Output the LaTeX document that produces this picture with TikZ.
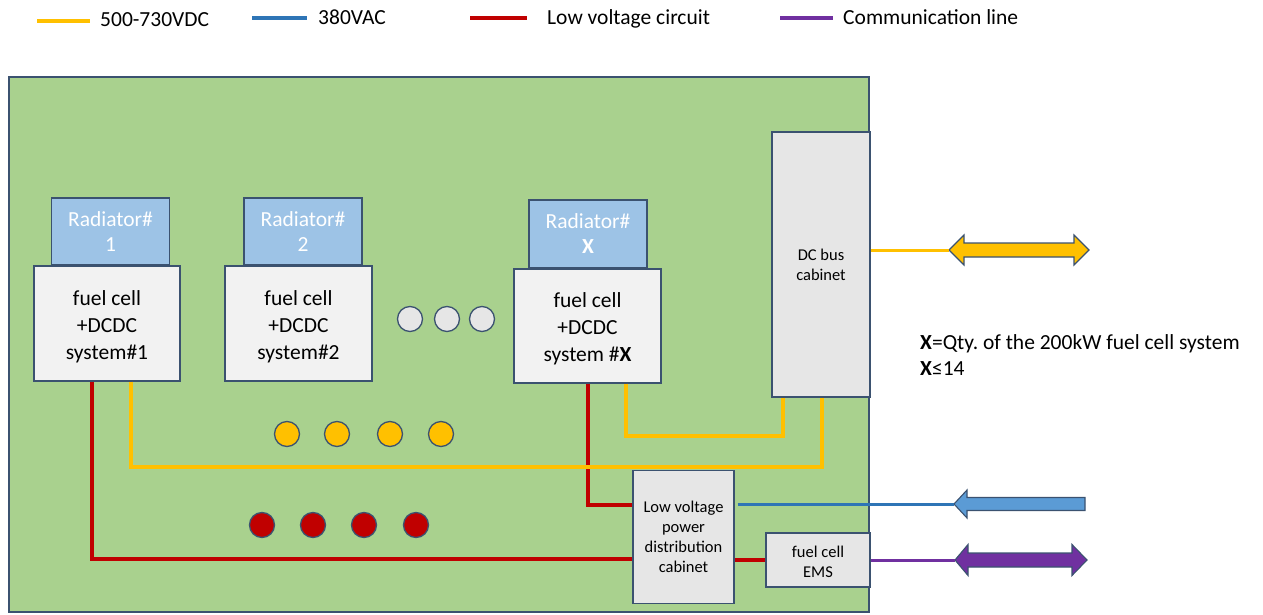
\documentclass[tikz,border=0pt]{standalone}
\usepackage{fontspec}
\setmainfont{Carlito}
\usetikzlibrary{calc}
\definecolor{bordc}{HTML}{3B5270}
\definecolor{greenc}{HTML}{A9D18E}
\definecolor{radc}{HTML}{9DC3E6}
\definecolor{fcc}{HTML}{F2F2F2}
\definecolor{cabc}{HTML}{E6E6E6}
\definecolor{yel}{HTML}{FFC000}
\definecolor{blu}{HTML}{2E75B6}
\definecolor{blufill}{HTML}{5B9BD5}
\definecolor{redc}{HTML}{C00000}
\definecolor{pur}{HTML}{7030A0}
\tikzset{
  bd/.style={draw=bordc, line width=1.3pt},
  radbox/.style={bd, fill=radc, text=white, font=\fontsize{21.5}{25}\selectfont, align=center, inner sep=0, minimum width=118, minimum height=67},
  fcbox/.style={bd, fill=fcc, inner sep=0, minimum width=147, minimum height=115},
  fctext/.style={font=\fontsize{21.5}{27}\selectfont, align=center, inner sep=0},
  cab/.style={bd, fill=cabc, font=\fontsize{16.5}{20}\selectfont, align=center, inner sep=0},
  dot/.style={circle, bd, inner sep=0, minimum size=25},
  wire/.style={line width=4pt},
  thin wire/.style={line width=3pt},
  legtext/.style={anchor=base west, inner sep=0, font=\fontsize{21.5}{25}\selectfont},
  blockarrow/.style={draw=bordc, line width=1.1pt, line join=miter},
}
\begin{document}
\frenchspacing
\begin{tikzpicture}[x=1pt,y=-1pt]
\useasboundingbox (0,0) rectangle (1263,615);

% legend
\coordinate (l1a) at (37,21); \coordinate (l1b) at (90,21);
\draw[wire, yel] (l1a) -- (l1b);
\node[legtext] (t1) at (100,27) {500-730VDC};
\coordinate (l2a) at (252,18); \coordinate (l2b) at (307,18);
\draw[wire, blu] (l2a) -- (l2b);
\node[legtext] (t2) at (318,25) {380VAC};
\coordinate (l3a) at (470,18); \coordinate (l3b) at (527,18);
\draw[wire, redc] (l3a) -- (l3b);
\node[legtext] (t3) at (547,25) {Low voltage circuit};
\coordinate (l4a) at (780,18); \coordinate (l4b) at (833,18);
\draw[wire, pur] (l4a) -- (l4b);
\node[legtext] (t4) at (843,25) {Communication line};

% container
\node[bd, fill=greenc, inner sep=0, minimum width=860, minimum height=535] (plant) at (439,344.5) {};

% radiators and fuel cells
\node[radbox] (rad1) at (110.5,231.5) {Radiator\#\\1};
\node[fcbox, minimum width=146] (fc1) at (107,323.5) {};
\node[fctext] (fc1t) at ($(fc1.center)+(0,3)$) {fuel cell\\+DCDC\\system\#1};
\node[radbox] (rad2) at (303,231.5) {Radiator\#\\2};
\node[fcbox] (fc2) at (298.5,323.5) {};
\node[fctext] (fc2t) at ($(fc2.center)+(0,3)$) {fuel cell\\+DCDC\\system\#2};
\node[radbox, minimum height=68] (radX) at (588,234) {Radiator\#\\\textbf{X}};
\node[fcbox, minimum height=114] (fcX) at (587.5,326) {};
\node[fctext] (fcXt) at ($(fcX.center)+(0,3)$) {fuel cell\\+DCDC\\system \#\textbf{X}};

% grey dots
\node[dot, fill=cabc] (g1) at (410,319) {};
\node[dot, fill=cabc] (g2) at (447,319) {};
\node[dot, fill=cabc] (g3) at (482,319) {};

% yellow dots
\node[dot, fill=yel] (y1) at (287,434) {};
\node[dot, fill=yel] (y2) at (337,434) {};
\node[dot, fill=yel] (y3) at (390,434) {};
\node[dot, fill=yel] (y4) at (441,434) {};

% red dots
\node[dot, fill=redc] (r1) at (262,525) {};
\node[dot, fill=redc] (r2) at (313,525) {};
\node[dot, fill=redc] (r3) at (364,525) {};
\node[dot, fill=redc] (r4) at (416,525) {};

% cabinets
\node[cab, minimum width=98, minimum height=265] (dcbus) at (821,264.5) {DC bus\\cabinet};
\node[cab, minimum width=101, minimum height=133] (lv) at (683.5,537) {Low voltage\\power\\distribution\\cabinet};
\node[cab, minimum width=104, minimum height=54] (ems) at (818,560) {};
\node[cab, draw=none, fill=none] (emst) at ($(ems.center)+(0,1.5)$) {fuel cell\\EMS};

% red wires
\draw[wire, redc] ($(fc1.south)+(-15,0)$) |- ($(lv.west)+(0,22)$);
\draw[wire, redc] ($(fcX.south)+(0.5,0)$) |- ($(lv.west)+(0,-32)$);
\draw[wire, redc] (lv.east |- ems.west) -- (ems.west);

% yellow wires
\draw[wire, yel] ($(fc1.south)+(24,0)$) |- ($(dcbus.south)+(1,69)$) -- ($(dcbus.south)+(1,0)$);
\draw[wire, yel] ($(fcX.south)+(38.5,0)$) |- ($(dcbus.south)+(-38,38)$) -- ($(dcbus.south)+(-38,0)$);

% external arrows
\coordinate (ya) at (949,250);
\coordinate (ba) at (954,504);
\coordinate (pa) at (955,560);
\draw[blockarrow, fill=yel] (ya) -- (964,235) -- (964,243) -- (1074,243) -- (1074,235) -- (1089,250) -- (1074,265) -- (1074,257) -- (964,257) -- (964,265) -- cycle;
\draw[blockarrow, fill=blufill] (ba) -- (967,490) -- (967,497.5) -- (1085,497.5) -- (1085,510.5) -- (967,510.5) -- (967,518) -- cycle;
\draw[blockarrow, fill=pur] (pa) -- (968,544.5) -- (968,553) -- (1072,553) -- (1072,544.5) -- (1087,560) -- (1072,575.5) -- (1072,567) -- (968,567) -- (968,575.5) -- cycle;

\draw[thin wire, yel] (dcbus.east |- ya) -- (ya);
\draw[thin wire, blu] ($(lv.east)+(3,-33)$) -- (ba);
\draw[thin wire, pur] (ems.east) -- (pa);

% note
\node[anchor=west, inner sep=0, align=left, font=\fontsize{21.5}{26}\selectfont] (note) at (920,355) {\textbf{X}=Qty. of the 200kW fuel cell system\\\textbf{X}≤14};
\end{tikzpicture}
\end{document}
